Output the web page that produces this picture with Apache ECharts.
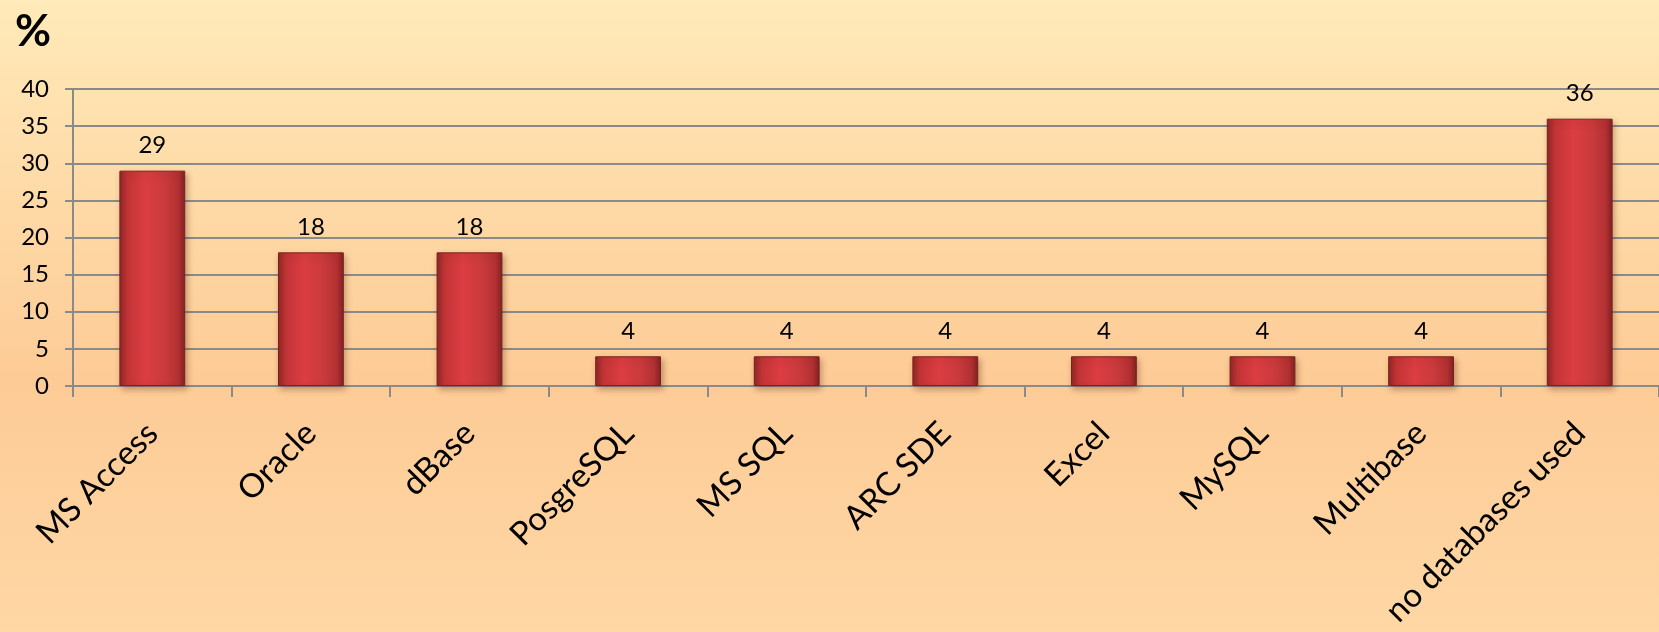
<!DOCTYPE html>
<html>
<head>
<meta charset="utf-8">
<script src="https://cdn.jsdelivr.net/npm/echarts@6/dist/echarts.min.js"></script>
<style>
html,body{margin:0;padding:0;}
#c{width:1659px;height:632px;}
</style>
</head>
<body>
<div id="c"></div>
<script>
const categories = ["MS Access","Oracle","dBase","PosgreSQL","MS SQL","ARC SDE","Excel","MySQL","Multibase","no databases used"];
const values = [29,18,18,4,4,4,4,4,4,36];
const yTicks = {min:0, max:40, interval:5};
const unitLabel = "%";

const chart = echarts.init(document.getElementById('c'));
const font = 'Lato, "Open Sans", sans-serif';
chart.setOption({
  backgroundColor: {
    type:'linear', x:0, y:0, x2:0, y2:1,
    colorStops:[
      {offset:0, color:'#FFEAB9'},
      {offset:0.6, color:'#FDCB96'},
      {offset:1, color:'#FED7A5'}
    ]
  },
  title: {
    text: unitLabel, left: 10, top: 5,
    textStyle:{fontFamily:font, fontWeight:'bold', fontSize:44, color:'#000'}
  },
  grid: {left:73, top:89, width:1593, bottom:246, containLabel:false},
  xAxis: {
    type:'category', data:categories,
    axisLine:{lineStyle:{color:'#8a8a8a', width:2}},
    axisTick:{show:true, length:11, lineStyle:{color:'#8a8a8a', width:2}},
    axisLabel:{rotate:45, interval:0, fontFamily:font, fontSize:33, color:'#000', margin:42}
  },
  yAxis: {
    type:'value', min:yTicks.min, max:yTicks.max, interval:yTicks.interval,
    axisLine:{show:true, lineStyle:{color:'#8a8a8a', width:2}},
    axisTick:{show:true, length:8, lineStyle:{color:'#8a8a8a', width:2}},
    splitLine:{lineStyle:{color:'#8a8a8a', width:2}},
    axisLabel:{fontFamily:font, fontSize:24, color:'#000', margin:24}
  },
  series: [{
    type:'bar', data:values, barWidth:'41.5%',
    itemStyle:{
      color:{type:'linear', x:0, y:0, x2:1, y2:0, colorStops:[
        {offset:0, color:'#8e2626'},
        {offset:0.12, color:'#c23436'},
        {offset:0.4, color:'#db3d42'},
        {offset:0.7, color:'#c93a3c'},
        {offset:0.9, color:'#b23032'},
        {offset:1, color:'#7e2222'}
      ]},
      borderColor:'#7a2020', borderWidth:1,
      shadowColor:'rgba(90,40,20,0.35)', shadowBlur:6, shadowOffsetX:2, shadowOffsetY:3
    },
    label:{show:true, position:'top', distance:13, fontFamily:font, fontSize:24, color:'#000'}
  }]
});
</script>
</body>
</html>
